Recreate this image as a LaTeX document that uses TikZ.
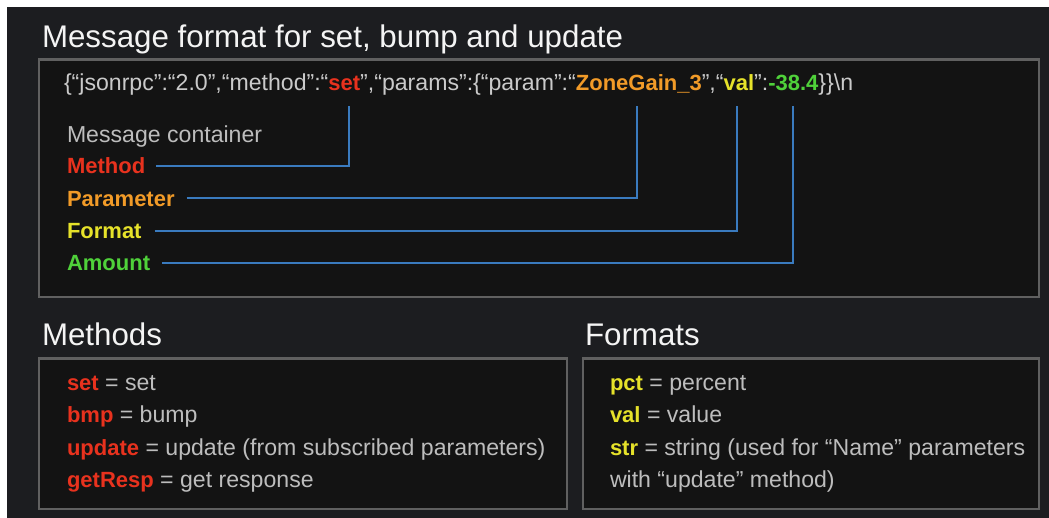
\documentclass[tikz,border=0pt]{standalone}
\usepackage{fontspec}
\setmainfont{Liberation Sans}
\definecolor{bgc}{HTML}{1C1D20}
\definecolor{boxfill}{HTML}{131313}
\definecolor{boxline}{HTML}{606060}
\definecolor{connc}{HTML}{3A7BBF}
\definecolor{redc}{HTML}{E8321E}
\definecolor{orangec}{HTML}{F29B28}
\definecolor{yellowc}{HTML}{E6E22A}
\definecolor{greenc}{HTML}{4FD13A}
\definecolor{bodyc}{HTML}{BDBDBD}
\definecolor{jsonc}{HTML}{CACACA}
\definecolor{headc}{HTML}{F4F4F4}
\newcommand{\myitmfont}{\fontsize{22}{26}\selectfont\bfseries}
\begin{document}
\begin{tikzpicture}[x=1pt,y=-1pt,
  txt/.style={inner sep=0pt, outer sep=0pt, anchor=base west, font=\fontsize{23.1}{27}\selectfont, text=bodyc},
  jpart/.style={txt, text depth=0pt, text=jsonc},
  jbold/.style={jpart, font=\myitmfont},
  lbl/.style={txt, font=\myitmfont, text height=16pt, text depth=0pt},
  head/.style={inner sep=0pt, outer sep=0pt, anchor=base west, font=\fontsize{31.3}{36}\selectfont, text=headc},
  box/.style={draw=boxline, fill=boxfill, line width=2.5pt},
  conn/.style={draw=connc, line width=2pt}]
\useasboundingbox (0,0) rectangle (1049,518);
\fill[white] (0,0) rectangle (1049,518);
\fill[bgc] (7,7.5) rectangle (1049,518);

% title
\node[head] (title) at (42,48) {Message format for set, bump and update};

% main box
\draw[box] (39,59.5) rectangle (1039,297);

% JSON line
\node[jpart] (j1) at (64,91) {\{“jsonrpc”:“2.0”,“method”:“};
\node[jbold, text=redc] (jset) at (j1.base east) {set};
\node[jpart] (j2) at (jset.base east) {”,“params”:\{“param”:“};
\node[jbold, text=orangec] (jzone) at (j2.base east) {ZoneGain\_3};
\node[jpart] (j3) at (jzone.base east) {”,“};
\node[jbold, text=yellowc] (jval) at (j3.base east) {val};
\node[jpart] (j4) at (jval.base east) {”:};
\node[jbold, text=greenc] (jamt) at (j4.base east) {-38.4};
\node[jpart] (j5) at (jamt.base east) {\}\}\textbackslash n};

% labels
\node[txt] (lcont) at (67,142.5) {Message container};
\node[lbl, text=redc] (lmeth) at (67,174) {Method};
\node[lbl, text=orangec] (lpar) at (67,206.3) {Parameter};
\node[lbl, text=yellowc] (lfmt) at (67,238.6) {Format};
\node[lbl, text=greenc] (lamt) at (67,271) {Amount};

% connectors
\draw[conn] ([xshift=11pt]lmeth.east) -| ([xshift=5pt,yshift=-15pt]jset.south);
\draw[conn] ([xshift=12pt]lpar.east) -| ([xshift=-2pt,yshift=-15pt]jzone.south);
\draw[conn] ([xshift=13pt]lfmt.east) -| ([xshift=-2pt,yshift=-15pt]jval.south);
\draw[conn] ([xshift=12pt]lamt.east) -| ([yshift=-15pt]jamt.south);

% Methods
\node[head] (hmeth) at (42,345) {Methods};
\draw[box] (39,358.5) rectangle (567,509);
\node[txt] (m1) at (67,390) {\textcolor{redc}{\myitmfont set} = set};
\node[txt] (m2) at (67,422.5) {\textcolor{redc}{\myitmfont bmp} = bump};
\node[txt] (m3) at (67,455) {\textcolor{redc}{\myitmfont update} = update (from subscribed parameters)};
\node[txt] (m4) at (67,487) {\textcolor{redc}{\myitmfont getResp} = get response};

% Formats
\node[head] (hfmt) at (585,345) {Formats};
\draw[box] (583,358.5) rectangle (1039,509);
\node[txt] (f1) at (610,390) {\textcolor{yellowc}{\myitmfont pct} = percent};
\node[txt] (f2) at (610,422.5) {\textcolor{yellowc}{\myitmfont val} = value};
\node[txt] (f3) at (610,455) {\textcolor{yellowc}{\myitmfont str} = string (used for “Name” parameters};
\node[txt] (f4) at (610,487) {with “update” method)};
\end{tikzpicture}
\end{document}
